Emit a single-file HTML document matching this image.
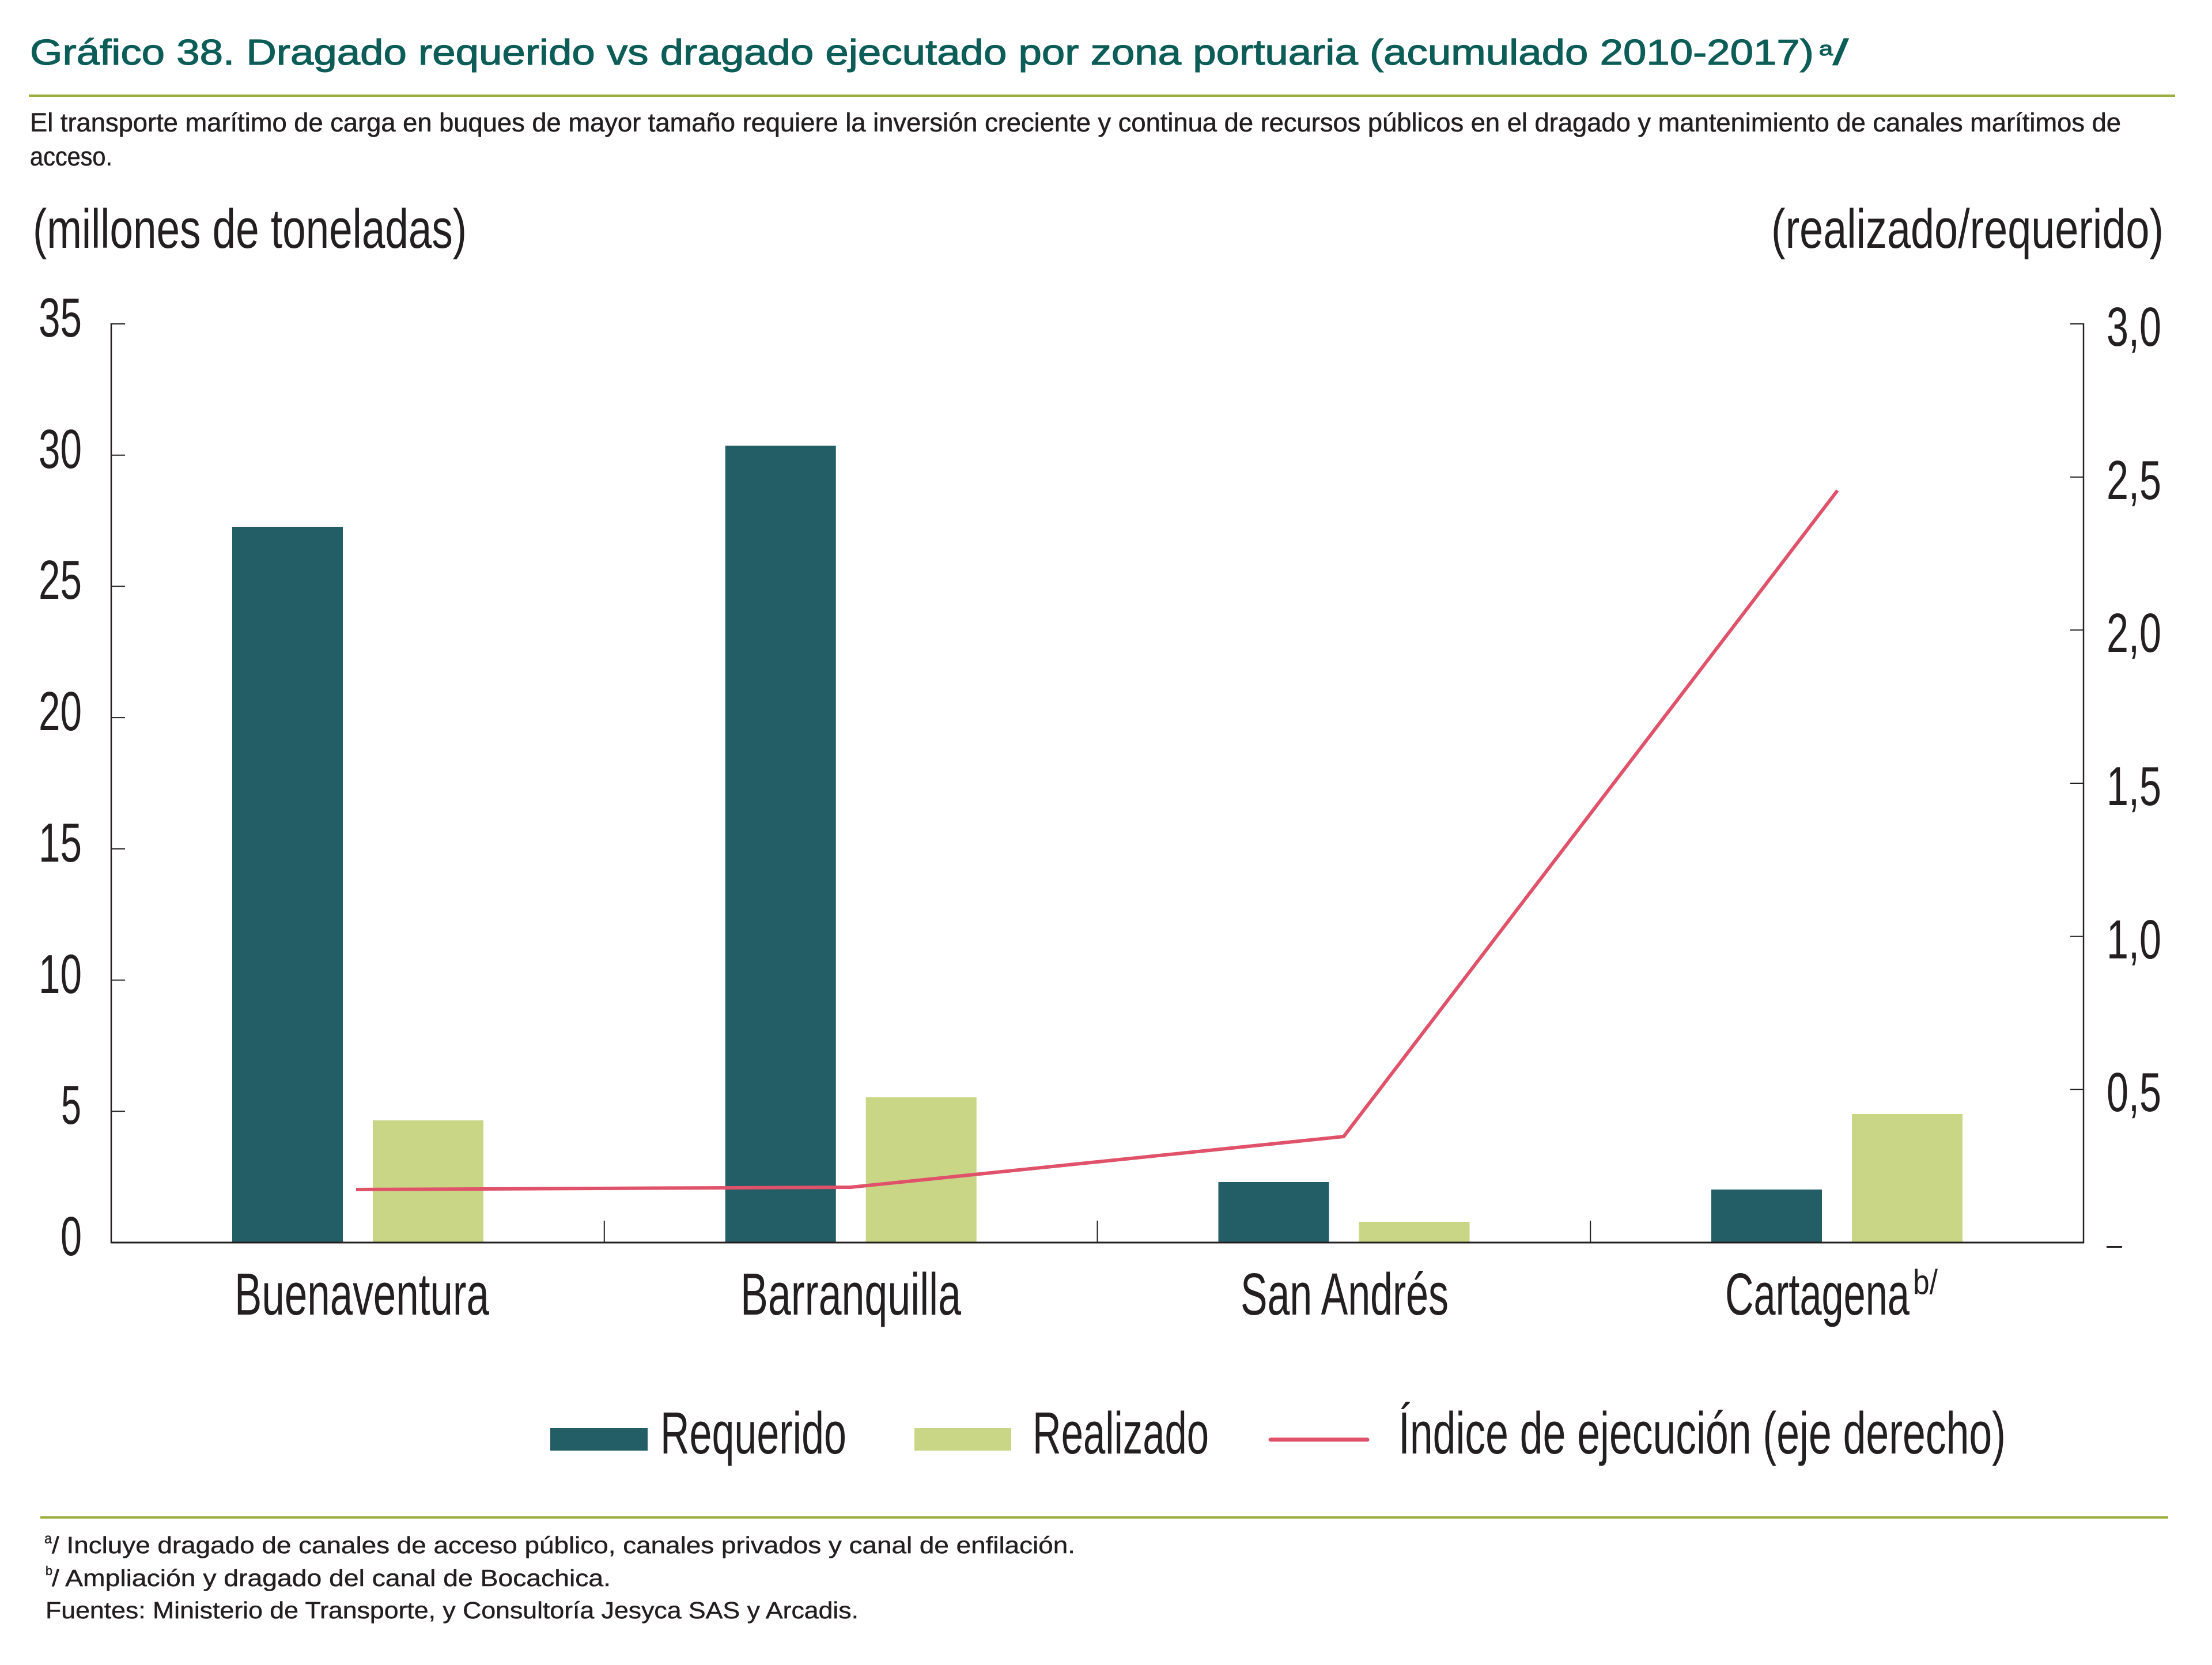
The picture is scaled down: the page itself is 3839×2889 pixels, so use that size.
<!DOCTYPE html>
<html>
<head>
<meta charset="utf-8">
<style>
  html, body { margin: 0; padding: 0; background: #ffffff; }
  svg { display: block; }
  text { font-family: "Liberation Sans", "DejaVu Sans", sans-serif; }
</style>
</head>
<body>
<svg width="3839" height="2889" viewBox="0 0 3839 2889" xmlns="http://www.w3.org/2000/svg">
  <rect x="0" y="0" width="3839" height="2889" fill="#ffffff"/>

  <!-- Title -->
  <g fill="#0C5C57" stroke="#0C5C57" stroke-width="1.2">
    <text x="52" y="112" font-size="62" textLength="3096" lengthAdjust="spacingAndGlyphs">Gráfico 38. Dragado requerido vs dragado ejecutado por zona portuaria (acumulado 2010-2017)</text>
    <text x="3157" y="96" font-size="34" textLength="24" lengthAdjust="spacingAndGlyphs">a</text>
    <text x="3181" y="112" font-size="62" textLength="27" lengthAdjust="spacingAndGlyphs">/</text>
  </g>

  <!-- top rule -->
  <rect x="50" y="164" width="3725" height="4" fill="#9BAE3E"/>

  <!-- Subtitle -->
  <g fill="#231F20" stroke="#231F20" stroke-width="0.6">
    <text x="52" y="228" font-size="45" textLength="3629" lengthAdjust="spacingAndGlyphs">El transporte marítimo de carga en buques de mayor tamaño requiere la inversión creciente y continua de recursos públicos en el dragado y mantenimiento de canales marítimos de</text>
    <text x="52" y="287" font-size="45" textLength="143" lengthAdjust="spacingAndGlyphs">acceso.</text>
  </g>

  <!-- Axis titles -->
  <text x="57" y="430" font-size="96" fill="#231F20" textLength="753" lengthAdjust="spacingAndGlyphs">(millones de toneladas)</text>
  <text x="3074" y="430" font-size="96" fill="#231F20" textLength="681" lengthAdjust="spacingAndGlyphs">(realizado/requerido)</text>

  <!-- Bars: Requerido -->
  <g fill="#235E66">
    <rect x="403" y="914" width="192" height="1242"/>
    <rect x="1258.75" y="773.5" width="192" height="1382.5"/>
    <rect x="2114.5" y="2051" width="192" height="105"/>
    <rect x="2970" y="2064" width="192" height="92"/>
  </g>
  <!-- Bars: Realizado -->
  <g fill="#C8D686">
    <rect x="647" y="1944" width="192" height="212"/>
    <rect x="1502.75" y="1904" width="192" height="252"/>
    <rect x="2358.5" y="2120" width="192" height="36"/>
    <rect x="3214" y="1933" width="192" height="223"/>
  </g>

  <!-- Axes -->
  <g stroke="#231F20" fill="none">
    <line x1="193" y1="561" x2="193" y2="2157" stroke-width="2.5"/>
    <line x1="3616" y1="561" x2="3616" y2="2157" stroke-width="2.5"/>
    <line x1="192" y1="2156" x2="3617" y2="2156" stroke-width="3"/>
    <g stroke-width="2">
      <line x1="193" y1="562" x2="217" y2="562"/>
      <line x1="193" y1="789.7" x2="217" y2="789.7"/>
      <line x1="193" y1="1017.4" x2="217" y2="1017.4"/>
      <line x1="193" y1="1245.1" x2="217" y2="1245.1"/>
      <line x1="193" y1="1472.9" x2="217" y2="1472.9"/>
      <line x1="193" y1="1700.6" x2="217" y2="1700.6"/>
      <line x1="193" y1="1928.3" x2="217" y2="1928.3"/>
    </g>
    <g stroke-width="2">
      <line x1="3593" y1="562" x2="3616" y2="562"/>
      <line x1="3593" y1="827.7" x2="3616" y2="827.7"/>
      <line x1="3593" y1="1093.3" x2="3616" y2="1093.3"/>
      <line x1="3593" y1="1359" x2="3616" y2="1359"/>
      <line x1="3593" y1="1624.7" x2="3616" y2="1624.7"/>
      <line x1="3593" y1="1890.3" x2="3616" y2="1890.3"/>
    </g>
    <g stroke-width="2">
      <line x1="1048.75" y1="2118" x2="1048.75" y2="2156"/>
      <line x1="1904.5" y1="2118" x2="1904.5" y2="2156"/>
      <line x1="2760.25" y1="2118" x2="2760.25" y2="2156"/>
    </g>
  </g>

  <!-- Index line -->
  <polyline points="618,2064 1476.6,2060 2332,1972 3189,851" fill="none" stroke="#E0516A" stroke-width="6" stroke-linejoin="round"/>

  <!-- Left tick labels -->
  <g font-size="96" fill="#231F20">
    <text x="67" y="584" textLength="75" lengthAdjust="spacingAndGlyphs">35</text>
    <text x="67" y="812" textLength="75" lengthAdjust="spacingAndGlyphs">30</text>
    <text x="67" y="1039" textLength="75" lengthAdjust="spacingAndGlyphs">25</text>
    <text x="67" y="1267" textLength="75" lengthAdjust="spacingAndGlyphs">20</text>
    <text x="67" y="1495" textLength="75" lengthAdjust="spacingAndGlyphs">15</text>
    <text x="67" y="1723" textLength="75" lengthAdjust="spacingAndGlyphs">10</text>
    <text x="106" y="1950" textLength="35" lengthAdjust="spacingAndGlyphs">5</text>
    <text x="105" y="2178" textLength="37" lengthAdjust="spacingAndGlyphs">0</text>
  </g>

  <!-- Right tick labels -->
  <g font-size="96" fill="#231F20">
    <text x="3656" y="600" textLength="95" lengthAdjust="spacingAndGlyphs">3,0</text>
    <text x="3656" y="866" textLength="95" lengthAdjust="spacingAndGlyphs">2,5</text>
    <text x="3656" y="1131" textLength="95" lengthAdjust="spacingAndGlyphs">2,0</text>
    <text x="3656" y="1397" textLength="95" lengthAdjust="spacingAndGlyphs">1,5</text>
    <text x="3656" y="1663" textLength="95" lengthAdjust="spacingAndGlyphs">1,0</text>
    <text x="3656" y="1928" textLength="95" lengthAdjust="spacingAndGlyphs">0,5</text>
  </g>
  <rect x="3656" y="2162" width="27" height="3" fill="#231F20"/>

  <!-- Category labels -->
  <g font-size="103" fill="#231F20">
    <text x="407" y="2281" textLength="442" lengthAdjust="spacingAndGlyphs">Buenaventura</text>
    <text x="1285" y="2281" textLength="383" lengthAdjust="spacingAndGlyphs">Barranquilla</text>
    <text x="2153" y="2281" textLength="361" lengthAdjust="spacingAndGlyphs">San Andrés</text>
    <text x="2994" y="2281" textLength="320" lengthAdjust="spacingAndGlyphs">Cartagena</text>
  </g>
  <text x="3320" y="2245" font-size="60" fill="#231F20" textLength="43" lengthAdjust="spacingAndGlyphs">b/</text>

  <!-- Legend -->
  <rect x="955" y="2478" width="169" height="39" fill="#235E66"/>
  <rect x="1587" y="2478" width="168" height="39" fill="#C8D686"/>
  <line x1="2205" y1="2498" x2="2373" y2="2498" stroke="#E0516A" stroke-width="7" stroke-linecap="round"/>
  <g font-size="103" fill="#231F20">
    <text x="1146" y="2522" textLength="323" lengthAdjust="spacingAndGlyphs">Requerido</text>
    <text x="1792" y="2522" textLength="306" lengthAdjust="spacingAndGlyphs">Realizado</text>
    <text x="2427" y="2522" textLength="1054" lengthAdjust="spacingAndGlyphs">Índice de ejecución (eje derecho)</text>
  </g>

  <!-- bottom rule -->
  <rect x="70" y="2631" width="3693" height="4" fill="#9BAE3E"/>

  <!-- Footnotes -->
  <g fill="#231F20" stroke="#231F20" stroke-width="0.5">
    <text x="77" y="2678" font-size="25" textLength="13" lengthAdjust="spacingAndGlyphs">a</text>
    <text x="90" y="2695" font-size="41" textLength="1776" lengthAdjust="spacingAndGlyphs">/ Incluye dragado de canales de acceso público, canales privados y canal de enfilación.</text>
    <text x="79" y="2733" font-size="22" textLength="12" lengthAdjust="spacingAndGlyphs">b</text>
    <text x="90" y="2752" font-size="41" textLength="970" lengthAdjust="spacingAndGlyphs">/ Ampliación y dragado del canal de Bocachica.</text>
    <text x="79" y="2808" font-size="41" textLength="1411" lengthAdjust="spacingAndGlyphs">Fuentes: Ministerio de Transporte, y Consultoría Jesyca SAS y Arcadis.</text>
  </g>
</svg>
</body>
</html>
